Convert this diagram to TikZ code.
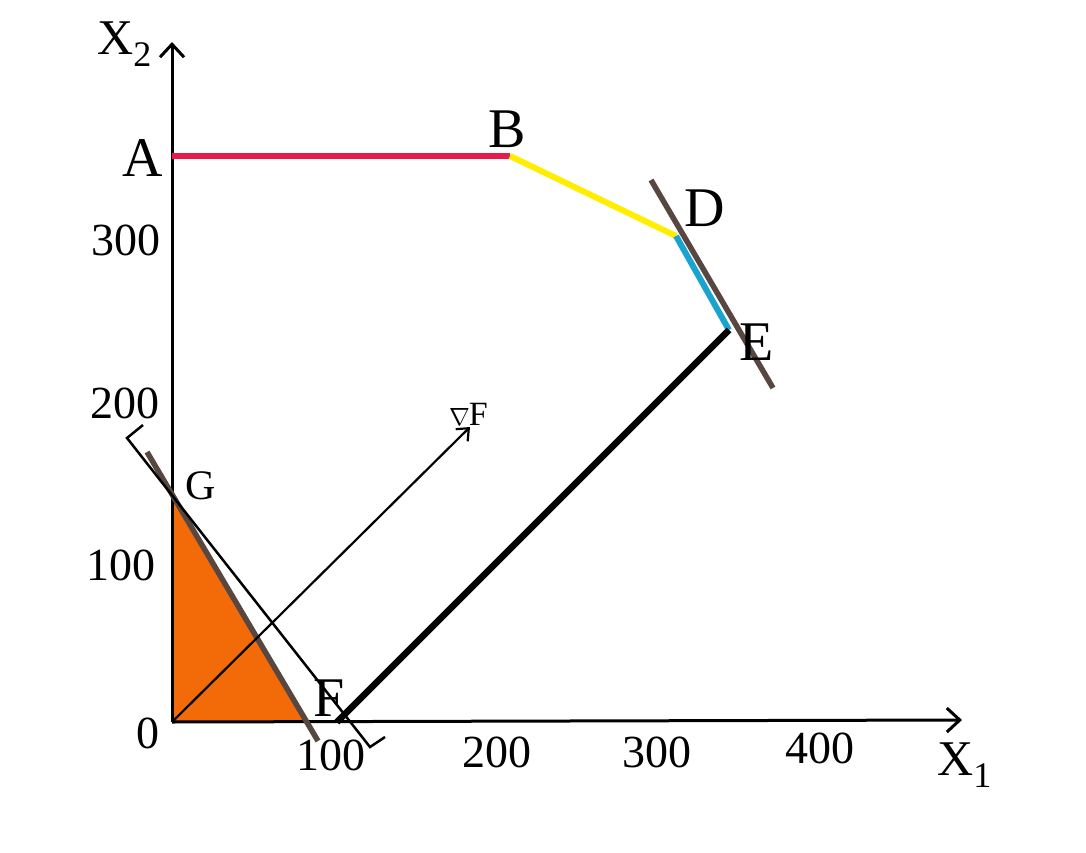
\documentclass[tikz,border=0pt]{standalone}
\usepackage{fontspec}
\setmainfont{Liberation Serif}
\usetikzlibrary{arrows.meta}
\definecolor{cred}{HTML}{E8194B}
\definecolor{cyel}{HTML}{FFEE00}
\definecolor{cblue}{HTML}{1AA3CF}
\definecolor{cbrown}{HTML}{574740}
\definecolor{corange}{HTML}{F26B08}
\tikzset{
  axis/.style={line width=3pt,-{Straight Barb[length=13pt,width=24pt,line width=3pt]}},
  lbl/.style={inner sep=0pt,font=\fontsize{56}{60}\selectfont},
  num/.style={inner sep=0pt,font=\fontsize{46}{50}\selectfont},
  seg/.style={line width=6pt},
  tangent/.style={line width=5.5pt,color=cbrown},
}
\begin{document}
\begin{tikzpicture}[x=1pt,y=-1pt]
\useasboundingbox (0,0) rectangle (1086,853);
% key points
\coordinate (O) at (172,722);
\coordinate (A) at (172,156);
\coordinate (B) at (510,156);
\coordinate (D) at (676,236);
\coordinate (E) at (729,330);
\coordinate (Fp) at (337,722);
\coordinate (Gp) at (172,496);
\coordinate (Hp) at (305,722);
% feasible triangle
\fill[corange] (O) -- (Gp) -- (Hp) -- cycle;
% axes
\coordinate (xend) at (962,720);
\coordinate (yend) at (172,42);
\draw[axis] (O) -- (xend);
\draw[axis] (O) -- (yend);
% tangent at D-E
\coordinate (t1) at (651,180);
\coordinate (t2) at (773,388);
\draw[tangent] (t1) -- (t2);
% boundary
\draw[seg,cred] (A) -- (B);
\draw[seg,cyel] (B) -- (D);
\draw[seg,cblue] (D) -- (E);
\draw[line width=6.5pt,black] (E) -- (Fp);
% tangent at G
\coordinate (g1) at (147,452);
\coordinate (g2) at (318,741);
\draw[tangent] (g1) -- (g2);
% thin isoprofit line with end ticks
\coordinate (h0) at (143,425);
\coordinate (h1) at (127,438);
\coordinate (h2) at (370,747);
\coordinate (h3) at (385,737);
\draw[line width=2.5pt] (h0) -- (h1) -- (h2) -- (h3);
% gradient arrow
\coordinate (gr) at (470,427);
\draw[line width=2.2pt,-{Straight Barb[length=10pt,width=17pt,line width=2.2pt]}] (O) -- (gr);
\node[inner sep=0pt,anchor=west] (nab) at (449,414) {\fontsize{30}{32}\selectfont$\nabla$\kern-1pt\fontsize{34}{36}\selectfont F};
% labels
\node[lbl] (lA) at (143,158) {A};
\node[lbl] (lB) at (507,129) {B};
\node[lbl] (lD) at (705,208) {D};
\node[lbl] (lE) at (757,342) {E};
\node[lbl] (lF) at (329,698) {F};
\node[inner sep=0pt,font=\fontsize{42}{46}\selectfont] (lG) at (201,486) {G};
\node[inner sep=0pt,anchor=base west,font=\fontsize{50}{54}\selectfont] (lx2) at (97,55) {X\raisebox{-12pt}{\fontsize{36}{40}\selectfont 2}};
\node[inner sep=0pt,anchor=base west,font=\fontsize{50}{54}\selectfont] (lx1) at (937,775) {X\raisebox{-12pt}{\fontsize{36}{40}\selectfont 1}};
% ticks
\node[num] (y300) at (126,240) {300};
\node[num] (y200) at (125,403) {200};
\node[num] (y100) at (121,565) {100};
\node[num] (y0) at (148,733) {0};
\node[num] (x100) at (331,755) {100};
\node[num] (x200) at (497,752) {200};
\node[num] (x300) at (657,752) {300};
\node[num] (x400) at (820,748) {400};
\end{tikzpicture}
\end{document}
